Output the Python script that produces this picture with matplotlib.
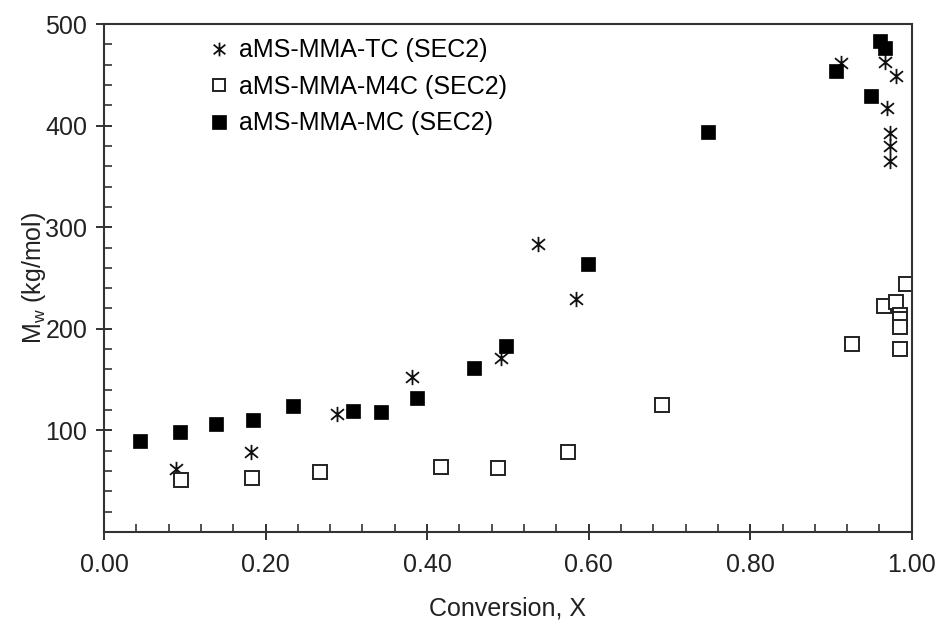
import matplotlib
matplotlib.use('Agg')
import matplotlib.pyplot as plt
from matplotlib.path import Path
from matplotlib.ticker import MultipleLocator, FormatStrFormatter

plt.rcParams['font.family'] = ['Liberation Sans', 'DejaVu Sans']
plt.rcParams['mathtext.default'] = 'regular'

# aMS-MMA-TC (SEC2)
tc_x = [0.089, 0.182, 0.288, 0.381, 0.492, 0.5375, 0.584, 0.912, 0.967,
        0.981, 0.969, 0.973, 0.973, 0.973]
tc_y = [62, 79, 116, 153, 171, 283, 229, 462, 463, 449, 417, 393, 380, 365]

# aMS-MMA-M4C (SEC2)
m4c_x = [0.095, 0.183, 0.268, 0.417, 0.488, 0.574, 0.691, 0.926, 0.966,
         0.980, 0.993, 0.986, 0.986, 0.986, 0.986]
m4c_y = [51, 53, 59, 64, 63, 79, 125, 185, 222, 226, 244, 214, 210, 202, 180]

# aMS-MMA-MC (SEC2)
mc_x = [0.045, 0.094, 0.139, 0.184, 0.234, 0.308, 0.343, 0.387, 0.458,
        0.498, 0.599, 0.748, 0.906, 0.949, 0.961, 0.967]
mc_y = [90, 98, 106, 110, 124, 119, 118, 132, 161, 183, 264, 394, 454,
        429, 483, 476]

labels = ['aMS-MMA-TC (SEC2)', 'aMS-MMA-M4C (SEC2)', 'aMS-MMA-MC (SEC2)']

# asterisk: vertical bar plus an X
star = Path([(0, -1), (0, 1), (-0.85, -0.7), (0.85, 0.7),
             (-0.85, 0.7), (0.85, -0.7)],
            [Path.MOVETO, Path.LINETO] * 3)

fig = plt.figure(figsize=(9.4, 6.22), dpi=100)
ax = fig.add_axes([0.1106, 0.1447, 0.8594, 0.8167])

ax.plot(tc_x, tc_y, ls='none', marker=star, ms=11, mew=1.3,
        color='#111111', label=labels[0])
ax.plot(m4c_x, m4c_y, ls='none', marker='s', ms=10, mew=1.4,
        mfc='white', mec='#222222', label=labels[1])
ax.plot(mc_x, mc_y, ls='none', marker='s', ms=10.5, mew=0.5,
        color='black', label=labels[2])

ax.set_xlim(0, 1)
ax.set_ylim(0, 500)
ax.xaxis.set_major_locator(MultipleLocator(0.2))
ax.xaxis.set_minor_locator(MultipleLocator(0.04))
ax.xaxis.set_major_formatter(FormatStrFormatter('%.2f'))
ax.set_yticks([100, 200, 300, 400, 500])
ax.yaxis.set_minor_locator(MultipleLocator(20))

ax.tick_params(which='major', direction='inout', length=12, width=1.3,
               labelsize=18, colors='#222222', pad=6)
ax.tick_params(which='minor', direction='in', length=6, width=1.1,
               colors='#222222')
ax.tick_params(axis='x', which='major', pad=9)
for sp in ax.spines.values():
    sp.set_linewidth(1.5)
    sp.set_color('#333333')

ax.set_xlabel('Conversion, X', fontsize=18, color='#222222', labelpad=14)
ax.set_ylabel(r'M$_{w}$ (kg/mol)', fontsize=18, color='#222222', labelpad=-2)

ax.legend(loc='upper left', bbox_to_anchor=(0.102, 1.016), frameon=False,
          fontsize=18, handlelength=0.8, handletextpad=0.4,
          labelspacing=0.5, markerscale=0.9)

fig.savefig('out.png', dpi=100)
